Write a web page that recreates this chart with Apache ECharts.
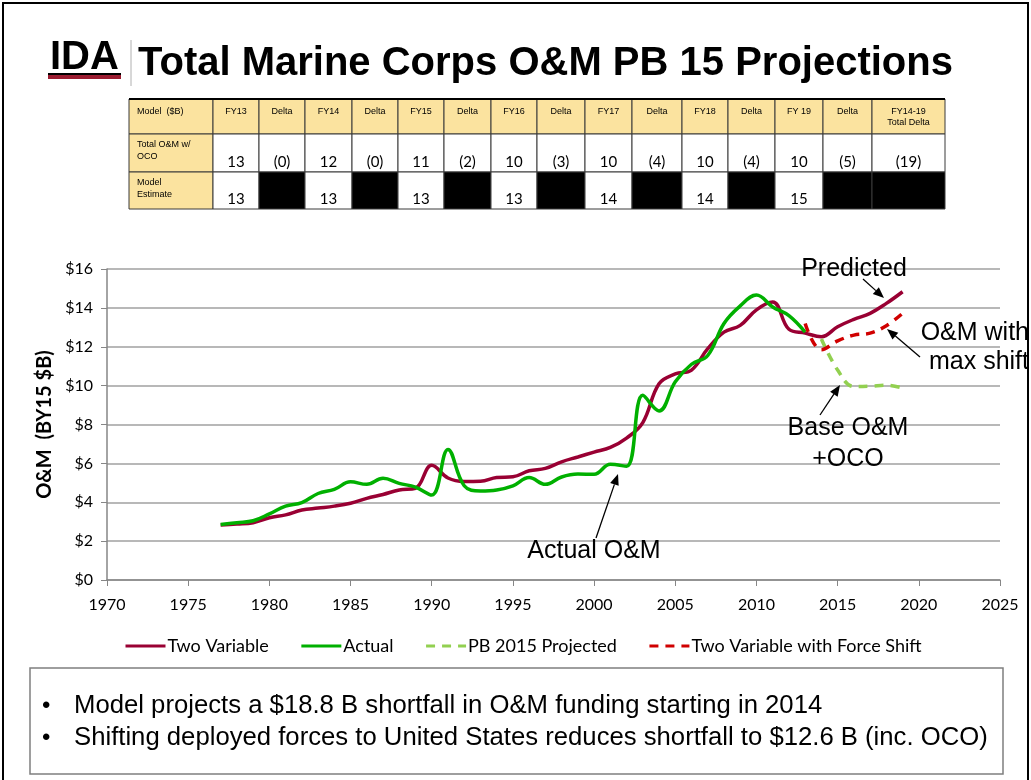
<!DOCTYPE html>
<html>
<head>
<meta charset="utf-8">
<script src="https://cdn.jsdelivr.net/npm/echarts@6/dist/echarts.min.js"></script>
<style>
html,body{margin:0;padding:0;background:#fff;}
#chart{width:1031px;height:780px;}
</style>
</head>
<body>
<div id="chart"></div>
<script>
// ---------- DATA ----------
const titleText = 'Total Marine Corps O&M PB 15 Projections';
const logoText = 'IDA';

const yearsTwoVar = [1977,1978,1979,1980,1981,1982,1983,1984,1985,1986,1987,1988,1989,1990,1991,1992,1993,1994,1995,1996,1997,1998,1999,2000,2001,2002,2003,2004,2005,2006,2007,2008,2009,2010,2011,2012,2013,2014,2015,2016,2017,2018,2019];
const twoVariable = [2.83,2.88,2.95,3.2,3.35,3.6,3.7,3.8,3.95,4.2,4.4,4.63,4.72,5.9,5.25,5.07,5.08,5.27,5.31,5.62,5.74,6.08,6.33,6.58,6.82,7.3,8.1,10.1,10.6,10.8,11.9,12.75,13.1,13.9,14.3,12.9,12.7,12.52,13.03,13.41,13.72,14.23,14.83];

const yearsActual = [1977,1978,1979,1980,1981,1982,1983,1984,1985,1986,1987,1988,1989,1990,1991,1992,1993,1994,1995,1996,1997,1998,1999,2000,2001,2002,2003,2004,2005,2006,2007,2008,2009,2010,2011,2012,2013];
const actual = [2.85,2.95,3.05,3.4,3.8,3.98,4.45,4.66,5.05,4.92,5.23,4.97,4.78,4.37,6.72,4.85,4.58,4.63,4.84,5.27,4.92,5.3,5.45,5.44,5.95,5.85,9.5,8.7,10.2,11.1,11.55,13.2,14.1,14.66,14.05,13.6,12.75];

const yearsPB = [2014,2015,2016,2017,2018,2019];
const pb2015 = [12.4,10.8,9.95,9.97,10.02,9.88];

const yearsShift = [2013,2014,2015,2016,2017,2018,2019];
const forceShift = [13.2,11.85,12.3,12.6,12.7,13.08,13.72];

const seriesNames = ['Two Variable','Actual','PB 2015 Projected','Two Variable with Force Shift'];
const yAxisName = 'O&M  (BY15 $B)';

const tableHeader = ['Model  ($B)','FY13','Delta','FY14','Delta','FY15','Delta','FY16','Delta','FY17','Delta','FY18','Delta','FY 19','Delta','FY14-19\nTotal Delta'];
const tableTotal = ['Total O&M w/\nOCO','13','(0)','12','(0)','11','(2)','10','(3)','10','(4)','10','(4)','10','(5)','(19)'];
const tableModel = ['Model\nEstimate','13',null,'13',null,'13',null,'13',null,'14',null,'14',null,'15',null,null];

const annotations = ['Predicted','O&M with\nmax shift','Base O&M\n+OCO','Actual O&M'];
const bullets = ['Model projects a $18.8 B shortfall in O&M funding starting in 2014',
                 'Shifting deployed forces to United States reduces shortfall to $12.6 B (inc. OCO)'];

// ---------- BUILD ----------
function zip(xs, ys){ return xs.map((x,i)=>[x, ys[i]]); }

const ARIAL = '"Liberation Sans", Arial, sans-serif';
const CAL = 'Lato, "Open Sans", sans-serif';

const colX = [129,213,259,305,352,398,444,491,537,585,632,682,728,775,823,872,945];
const rowY = [99,134,172,209];

const graphics = [];
// outer frame
graphics.push({type:'polyline', shape:{points:[[3,790],[3,3],[1028,3],[1028,790]]}, style:{stroke:'#000', lineWidth:2, fill:null}});
// logo
graphics.push({type:'text', x:50, y:58, style:{text:logoText, font:'bold 40px '+ARIAL, fill:'#000', textVerticalAlign:'middle'}});
graphics.push({type:'rect', shape:{x:48,y:73,width:73,height:2}, style:{fill:'#000'}});
graphics.push({type:'rect', shape:{x:48,y:75,width:73,height:4}, style:{fill:'#9b1b30'}});
graphics.push({type:'line', shape:{x1:131,y1:40,x2:131,y2:86}, style:{stroke:'#b0b0b0', lineWidth:1}});
graphics.push({type:'text', x:138, y:64, style:{text:titleText, font:'bold 40px '+ARIAL, fill:'#000', textVerticalAlign:'middle'}});

// table
const rows = [tableHeader, tableTotal, tableModel];
for (let r=0;r<3;r++){
  for (let c=0;c<16;c++){
    const x=colX[c], w=colX[c+1]-colX[c], y=rowY[r], h=rowY[r+1]-rowY[r];
    const val = rows[r][c];
    let fill = '#fff';
    if (r===0 || c===0) fill = '#fbe39f';
    else if (r===2 && val===null) fill = '#000';
    graphics.push({type:'rect', shape:{x:x,y:y,width:w,height:h}, style:{fill:fill, stroke:'#3a3a3a', lineWidth:1}});
    if (val===null) continue;
    if (r===0){
      if (c===0){
        graphics.push({type:'text', x:x+8, y:y+8, style:{text:val, font:'9px '+ARIAL, fill:'#000', textVerticalAlign:'top'}});
      } else {
        graphics.push({type:'text', x:x+w/2, y:y+7, style:{text:val, font:'9px '+ARIAL, fill:'#000', align:'center', textVerticalAlign:'top', lineHeight:11}});
      }
    } else if (c===0){
      graphics.push({type:'text', x:x+8, y:y+5, style:{text:val, font:'9px '+ARIAL, fill:'#000', textVerticalAlign:'top', lineHeight:12}});
    } else {
      graphics.push({type:'text', x:x+w/2, y:y+h-2, style:{text:val, font:'15px '+CAL, fill:'#000', align:'center', textVerticalAlign:'bottom'}});
    }
  }
}
graphics.push({type:'line', shape:{x1:129,y1:99,x2:945,y2:99}, style:{stroke:'#000', lineWidth:2}});

// annotations
function arrow(x1,y1,x2,y2){
  const a=Math.atan2(y2-y1,x2-x1), L=11, W=4.5;
  const bx=x2-L*Math.cos(a), by=y2-L*Math.sin(a);
  const px=-Math.sin(a)*W, py=Math.cos(a)*W;
  graphics.push({type:'line', shape:{x1:x1,y1:y1,x2:bx,y2:by}, style:{stroke:'#000', lineWidth:1.3}, z:50});
  graphics.push({type:'polygon', shape:{points:[[x2,y2],[bx+px,by+py],[bx-px,by-py]]}, style:{fill:'#000'}, z:50});
}
graphics.push({type:'text', x:854, y:269, style:{text:annotations[0], font:'25px '+ARIAL, fill:'#000', align:'center', textVerticalAlign:'middle'}, z:50});
arrow(863,279,884,298);
graphics.push({type:'text', x:1029, y:348, style:{text:annotations[1], font:'25px '+ARIAL, fill:'#000', align:'right', textVerticalAlign:'middle', lineHeight:29}, z:50});
arrow(920,357,887,329);
graphics.push({type:'text', x:848, y:444, style:{text:annotations[2], font:'25px '+ARIAL, fill:'#000', align:'center', textVerticalAlign:'middle', lineHeight:31}, z:50});
arrow(820,415,840,385);
graphics.push({type:'text', x:594, y:551, style:{text:annotations[3], font:'25px '+ARIAL, fill:'#000', align:'center', textVerticalAlign:'middle'}, z:50});
arrow(596,538,618,474);

// bottom box
graphics.push({type:'rect', shape:{x:30,y:668,width:973,height:106}, style:{fill:'#fff', stroke:'#7f7f7f', lineWidth:1.5}});
bullets.forEach((b,i)=>{
  const y = 706 + i*32;
  graphics.push({type:'text', x:42, y:y, style:{text:'•', font:'24px '+ARIAL, fill:'#000', textVerticalAlign:'middle'}});
  graphics.push({type:'text', x:74, y:y, style:{text:b, font:'25.7px '+ARIAL, fill:'#000', textVerticalAlign:'middle'}});
});

const chart = echarts.init(document.getElementById('chart'), null, {renderer:'canvas'});
const lineBase = {type:'line', symbol:'none', smooth:0.4, animation:false};
chart.setOption({
  animation:false,
  backgroundColor:'#fff',
  grid:{left:107, right:31, top:269, bottom:200, containLabel:false},
  legend:{
    left:119, top:632, itemWidth:40, itemHeight:14, itemGap:31,
    itemStyle:{opacity:0},
    lineStyle:{width:3},
    textStyle:{fontSize:18, fontFamily:CAL, color:'#000', padding:[0,0,0,-3]},
    data:seriesNames
  },
  xAxis:{
    type:'value', min:1970, max:2025, interval:5,
    axisLine:{show:true, lineStyle:{color:'#868686', width:1.5}},
    axisTick:{show:true, length:6, lineStyle:{color:'#868686'}},
    axisLabel:{fontSize:16, fontFamily:CAL, color:'#000', margin:17, formatter:function(v){return String(v);}},
    splitLine:{show:false}
  },
  yAxis:{
    type:'value', min:0, max:16, interval:2,
    name:yAxisName, nameLocation:'middle', nameGap:52, nameRotate:90,
    nameTextStyle:{fontSize:20, fontWeight:'bold', fontFamily:CAL, color:'#000'},
    axisLine:{show:true, lineStyle:{color:'#868686', width:1.5}},
    axisTick:{show:true, length:6, lineStyle:{color:'#868686'}},
    axisLabel:{fontSize:16, fontFamily:CAL, color:'#000', margin:14, formatter:'${value}'},
    splitLine:{show:true, lineStyle:{color:'#a0a0a0', width:1.5}}
  },
  series:[
    Object.assign({}, lineBase, {name:seriesNames[0], data:zip(yearsTwoVar,twoVariable), color:'#990033', lineStyle:{width:3.5, color:'#990033'}, z:3}),
    Object.assign({}, lineBase, {name:seriesNames[1], data:zip(yearsActual,actual), color:'#00b000', lineStyle:{width:3.5, color:'#00b000'}, z:4}),
    Object.assign({}, lineBase, {name:seriesNames[2], data:zip(yearsPB,pb2015), color:'#92d050', lineStyle:{width:3.5, color:'#92d050', type:[9,7]}, z:5}),
    Object.assign({}, lineBase, {name:seriesNames[3], data:zip(yearsShift,forceShift), color:'#d00000', lineStyle:{width:3.5, color:'#d00000', type:[9,7]}, z:6})
  ],
  graphic:{elements:graphics}
});
</script>
</body>
</html>
